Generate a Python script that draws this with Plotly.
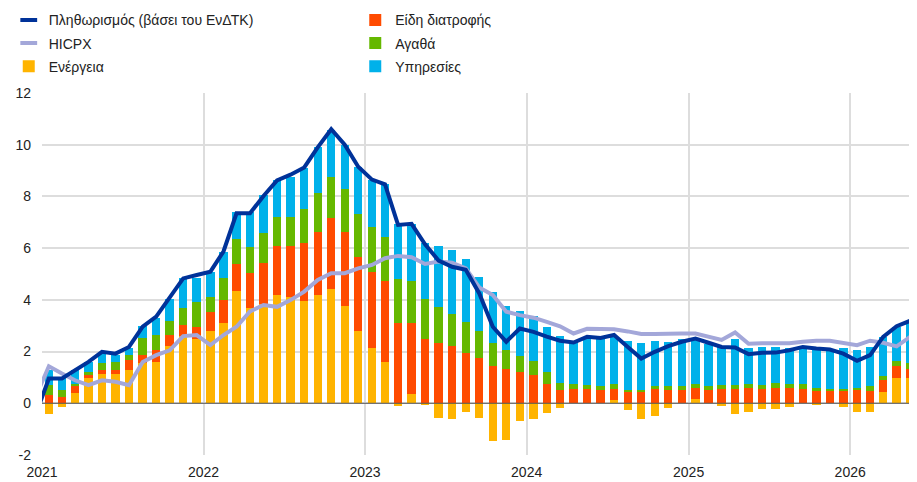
import plotly.graph_objects as go

# Months Dec 2020 .. May 2026 (lines), bars start Jan 2021
line_months = ["2020-12-01"] + [f"{y}-{m:02d}-01" for y in range(2021, 2027) for m in range(1, 13)][:65]
bar_months = line_months[1:]

energy = [-0.43, -0.13, 0.40, 0.96, 1.15, 1.15, 1.30, 1.55, 1.61, 2.20, 2.60, 2.50,
          2.80, 3.09, 4.34, 3.70, 3.85, 4.19, 4.11, 3.94, 4.19, 4.42, 3.77, 2.80,
          2.14, 1.60, -0.09, 0.36, -0.07, -0.57, -0.61, -0.32, -0.58, -1.45, -1.41, -0.67,
          -0.61, -0.36, -0.17, 0.00, 0.00, 0.00, 0.12, -0.25, -0.60, -0.50, -0.20, 0.00,
          0.15, 0.00, -0.12, -0.40, -0.35, -0.22, -0.22, -0.15, 0.00, -0.08, 0.00, -0.15,
          -0.35, -0.32, 0.44, 0.96, 0.96]
food = [0.31, 0.25, 0.26, 0.13, 0.15, 0.15, 0.39, 0.30, 0.46, 0.45, 0.43, 0.45,
        0.74, 0.90, 1.05, 1.33, 1.57, 1.90, 1.98, 2.25, 2.44, 2.76, 2.86, 2.84,
        2.95, 3.13, 3.09, 2.73, 2.50, 2.34, 2.20, 1.94, 1.76, 1.45, 1.34, 1.20,
        1.10, 0.76, 0.50, 0.54, 0.54, 0.50, 0.42, 0.44, 0.44, 0.54, 0.50, 0.50,
        0.46, 0.53, 0.54, 0.54, 0.61, 0.54, 0.61, 0.61, 0.54, 0.47, 0.47, 0.47,
        0.53, 0.47, 0.45, 0.49, 0.38]
goods = [0.39, 0.25, 0.10, 0.12, 0.24, 0.30, 0.17, 0.67, 0.58, 0.55, 0.67, 0.95,
         0.56, 0.84, 0.95, 1.00, 1.16, 1.13, 1.13, 1.32, 1.50, 1.57, 1.65, 1.67,
         1.74, 1.69, 1.70, 1.64, 1.53, 1.39, 1.24, 1.21, 1.03, 0.89, 0.74, 0.64,
         0.54, 0.44, 0.30, 0.20, 0.16, 0.16, 0.20, 0.09, 0.09, 0.12, 0.16, 0.16,
         0.15, 0.13, 0.16, 0.16, 0.15, 0.16, 0.19, 0.15, 0.20, 0.14, 0.10, 0.10,
         0.08, 0.19, 0.17, 0.19, 0.20]
services = [0.58, 0.46, 0.52, 0.39, 0.38, 0.26, 0.26, 0.45, 0.64, 0.83, 1.13, 0.93,
            0.97, 1.04, 1.06, 1.35, 1.46, 1.40, 1.54, 1.60, 1.77, 1.83, 1.72, 1.84,
            1.80, 2.07, 2.14, 2.21, 2.16, 2.36, 2.49, 2.43, 2.08, 1.98, 1.69, 1.74,
            1.74, 1.75, 1.80, 1.62, 1.80, 1.82, 1.81, 1.89, 1.81, 1.76, 1.72, 1.81,
            1.74, 1.65, 1.48, 1.77, 1.36, 1.48, 1.38, 1.36, 1.44, 1.44, 1.51, 1.55,
            1.44, 1.52, 1.51, 1.32, 1.65]
headline = [-0.5,
            0.96, 0.96, 1.28, 1.60, 1.99, 1.92, 2.18, 2.96, 3.35, 4.06, 4.83, 4.96,
            5.09, 5.87, 7.35, 7.35, 8.02, 8.62, 8.84, 9.12, 9.90, 10.6, 10.0, 9.15,
            8.65, 8.47, 6.90, 6.94, 6.15, 5.52, 5.28, 5.16, 4.25, 2.96, 2.38, 2.89,
            2.76, 2.58, 2.42, 2.35, 2.57, 2.53, 2.64, 2.18, 1.73, 1.99, 2.21, 2.38,
            2.50, 2.34, 2.18, 2.16, 1.90, 1.95, 1.96, 2.05, 2.18, 2.12, 2.08, 1.92,
            1.64, 1.86, 2.57, 2.98, 3.19]
hicpx = [0.2,
         1.43, 1.15, 0.89, 0.70, 0.89, 0.83, 0.70, 1.60, 1.86, 2.05, 2.60, 2.64,
         2.25, 2.64, 2.96, 3.55, 3.80, 3.73, 3.99, 4.32, 4.77, 5.03, 5.03, 5.22,
         5.35, 5.61, 5.70, 5.65, 5.39, 5.48, 5.44, 5.22, 4.48, 4.19, 3.54, 3.41,
         3.31, 3.15, 2.98, 2.70, 2.88, 2.87, 2.86, 2.78, 2.68, 2.68, 2.70, 2.70,
         2.70, 2.57, 2.45, 2.74, 2.30, 2.32, 2.32, 2.32, 2.38, 2.42, 2.42, 2.34,
         2.25, 2.42, 2.34, 2.20, 2.57]

y_ticks = [-2, 0, 2, 4, 6, 8, 10, 12]

names = {
    "headline": "Πληθωρισμός (βάσει του ΕνΔΤΚ)",
    "hicpx": "HICPX",
    "energy": "Ενέργεια",
    "food": "Είδη διατροφής",
    "goods": "Αγαθά",
    "services": "Υπηρεσίες",
}
colors = {
    "headline": "#003299",
    "hicpx": "#a3a7d9",
    "energy": "#ffb400",
    "food": "#ff4b00",
    "goods": "#65b800",
    "services": "#00b1ea",
}

BAR_W = 19 * 86400000
fig = go.Figure()

# legend-only entries for the lines (short thick dash glyph)
for key in ["headline", "hicpx"]:
    fig.add_trace(go.Scatter(
        x=[None], y=[None], mode="markers", name=names[key], legend="legend",
        legendgroup=key,
        marker=dict(symbol="line-ew", size=12, color=colors[key],
                    line=dict(color=colors[key], width=4)),
        hoverinfo="skip"))

for key, vals, leg in [("energy", energy, "legend"), ("food", food, "legend2"),
                       ("goods", goods, "legend2"), ("services", services, "legend2")]:
    fig.add_trace(go.Bar(
        x=bar_months, y=vals, name=names[key], marker_color=colors[key],
        marker_line_width=0, width=BAR_W, xperiod="M1", xperiodalignment="middle",
        legend=leg, legendgroup=key))

for key, vals in [("hicpx", hicpx), ("headline", headline)]:
    fig.add_trace(go.Scatter(
        x=line_months, y=vals, mode="lines", name=names[key], showlegend=False,
        xperiod="M1", xperiodalignment="middle",
        line=dict(color=colors[key], width=4)))

fig.add_shape(type="line", xref="paper", x0=0, x1=1, yref="y", y0=0, y1=0,
              line=dict(color="#555555", width=1), layer="above")

legend_common = dict(
    orientation="v", xanchor="left", yanchor="top", bgcolor="rgba(0,0,0,0)",
    font=dict(family="Liberation Sans, Arial, sans-serif", size=14, color="#222222"),
    tracegroupgap=2, itemwidth=30,
)
# the page body has an 8px default margin, so the figure is 8px smaller
fig.update_layout(
    width=909, height=474,
    margin=dict(l=34, r=0, t=85, b=27, autoexpand=False),
    paper_bgcolor="white", plot_bgcolor="white",
    barmode="relative", bargap=0,
    font=dict(family="Liberation Sans, Arial, sans-serif", size=14, color="#222222"),
    legend=dict(x=-0.038, y=1.245, **legend_common),
    legend2=dict(x=0.358, y=1.245, **legend_common),
    xaxis=dict(
        type="date", range=["2021-01-01", "2026-06-01"],
        tick0="2021-01-01", dtick="M12", tickformat="%Y",
        showgrid=True, gridcolor="#dddddd", gridwidth=2,
        showline=False, zeroline=False, ticks="", ticklabelstandoff=7,
        tickfont=dict(size=14, color="#222222"),
    ),
    yaxis=dict(
        range=[-2, 12], tickvals=y_ticks, ticktext=[str(v) for v in y_ticks],
        showgrid=True, gridcolor="#dddddd", gridwidth=2,
        zeroline=False, showline=False, ticks="", ticklabelstandoff=10,
        tickfont=dict(size=14, color="#222222"),
    ),
)

fig.write_html("out.html")
